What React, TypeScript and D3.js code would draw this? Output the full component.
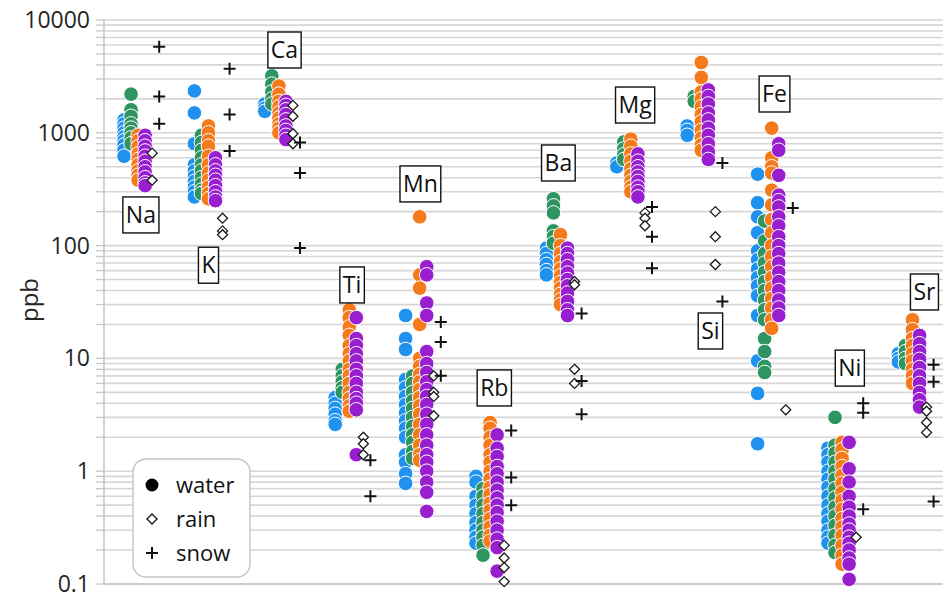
import { useMemo } from 'react';
import * as d3 from 'd3';

const W = 943;
const H = 599;
const PLOT = { left: 104, right: 943, top: 20, bottom: 584 };

const elements = ['Na', 'K', 'Ca', 'Ti', 'Mn', 'Rb', 'Ba', 'Mg', 'Si', 'Fe', 'Ni', 'Sr'];

// water samples, one column per site (blue, green, orange, purple)
const blueWater = [
  [1300, 1200, 1100, 1000, 920, 850, 780, 700, 620],
  [2350, 1500, 800, 520, 460, 410, 370, 330, 300, 270],
  [1800, 1650, 1550],
  [4.5, 4.0, 3.6, 3.2, 2.8, 2.6],
  [24, 15, 12, 6.5, 5.5, 4.6, 3.9, 3.3, 2.8, 2.4, 2.0, 1.4, 1.2, 0.95, 0.78],
  [0.9, 0.8, 0.6, 0.5, 0.42, 0.35, 0.3, 0.26, 0.23],
  [95, 85, 75, 68, 60, 55],
  [540, 500],
  [1150, 1050, 950],
  [430, 240, 180, 130, 90, 75, 62, 52, 44, 36, 24, 9.5, 4.9, 1.75],
  [1.6, 1.4, 1.2, 1.0, 0.85, 0.72, 0.6, 0.5, 0.42, 0.36, 0.3, 0.26, 0.23],
  [11, 10, 9.3],
];

const greenWater = [
  [2200, 1600, 1400, 1200, 1100, 1000, 900, 800],
  [950, 820, 700, 600, 520, 460, 400, 350, 310, 290],
  [3200, 2700, 2300, 2000, 1800],
  [8, 7, 6.2, 5.5, 5.0],
  [7, 6, 5, 4.2, 3.6, 3.0, 2.5, 2.1, 1.8, 1.5, 1.3],
  [0.7, 0.6, 0.5, 0.42, 0.35, 0.3, 0.26, 0.22, 0.18],
  [260, 225, 195, 135, 120, 105],
  [830, 720, 640, 580],
  [2100, 1900],
  [165, 110, 85, 70, 58, 48, 40, 33, 27, 22, 15, 11.5, 8.5, 7.5],
  [3.0, 1.7, 1.45, 1.2, 1.0, 0.85, 0.7, 0.58, 0.48, 0.4, 0.33, 0.27, 0.22, 0.19],
  [13, 11.5, 10, 9],
];

const orangeWater = [
  [950, 850, 750, 650, 580, 520, 460, 420, 380],
  [1150, 1000, 850, 760, 620, 520, 440, 380, 330, 290, 260],
  [2600, 2200, 1900, 1700, 1500, 1350, 1200, 1100, 1000],
  [27, 23, 19, 16, 13, 11, 9.5, 8, 7, 6, 5, 4.4, 3.8, 3.4],
  [180, 55, 42, 20, 10, 8.5, 7.2, 6.2, 5.3, 4.5, 3.8, 3.2, 2.6, 2.1, 1.7, 1.4, 1.25],
  [2.7, 2.4, 2.0, 1.7, 1.4, 1.2, 1.0, 0.85, 0.72, 0.62, 0.52, 0.45, 0.38, 0.32, 0.27, 0.24],
  [125, 100, 85, 72, 62, 54, 47, 42, 37, 33, 30],
  [880, 760, 650, 560, 480, 420, 370, 330, 300],
  [4200, 3100, 2300, 2000, 1700, 1450, 1250, 1050, 900, 780, 700],
  [1100, 600, 500, 440, 310, 230, 170, 130, 100, 80, 65, 52, 42, 34, 28, 22, 18.5],
  [1.8, 1.55, 1.3, 1.1, 0.92, 0.78, 0.65, 0.55, 0.46, 0.38, 0.32, 0.27, 0.22, 0.18, 0.15],
  [22, 18, 15, 13, 11, 9.5, 8, 7, 6],
];

const purpleWater = [
  [950, 850, 760, 690, 620, 560, 500, 450, 400, 360, 340],
  [600, 520, 460, 420, 380, 340, 300, 270, 250],
  [1900, 1750, 1600, 1450, 1300, 1150, 1050, 950, 870],
  [23, 15, 13, 11, 9.5, 8, 7, 6, 5, 4.4, 4, 3.5, 1.4],
  [65, 55, 31, 24, 11.5, 9, 7.5, 6.2, 5.3, 4.6, 3.9, 3.2, 2.6, 2.1, 1.7, 1.4, 1.2, 1.0, 0.8, 0.65, 0.44],
  [2.1, 1.6, 1.35, 1.1, 0.95, 0.8, 0.68, 0.58, 0.5, 0.43, 0.36, 0.3, 0.25, 0.21, 0.13],
  [95, 85, 75, 65, 57, 50, 44, 38, 32, 27, 24],
  [650, 560, 500, 450, 410, 370, 330, 300, 270],
  [2400, 2100, 1800, 1500, 1300, 1100, 950, 800, 680, 580],
  [800, 700, 420, 280, 250, 220, 180, 150, 120, 100, 85, 70, 58, 48, 40, 33, 28, 24],
  [1.8, 1.05, 0.8, 0.6, 0.48, 0.4, 0.34, 0.3, 0.26, 0.23, 0.2, 0.17, 0.15, 0.11],
  [16, 13.5, 11.5, 9.8, 8.3, 7, 6, 5, 4.3, 3.7],
];

const rainValues = [
  [660, 380],
  [175, 135, 125],
  [1750, 1400, 980, 800],
  [2.0, 1.75, 1.4],
  [7, 5, 4.6, 3.1],
  [0.22, 0.17, 0.14, 0.105],
  [48, 45, 8, 6],
  [195, 175, 150],
  [200, 120, 68],
  [3.5],
  [0.26],
  [3.7, 3.4, 2.7, 2.2],
];

const snowValues = [
  [5800, 2100, 1200],
  [3700, 1450, 690],
  [820, 440, 95],
  [1.25, 0.6],
  [21, 14, 7],
  [2.3, 0.88, 0.5],
  [25, 6.3, 3.2],
  [220, 120, 63],
  [540, 32],
  [215],
  [4.0, 3.3, 0.46],
  [8.8, 6.2, 0.54],
];

// where each element name box sits (element-relative x, ppb)
const labelDx = [0.24, 0.2, 0.28, 0.24, 0.21, 0.26, 0.17, 0.26, 0.33, 0.24, 0.31, 0.37];
const labelPpb = [187, 67, 5420, 44.8, 352, 5.47, 540, 1763, 17.5, 2208, 8.2, 38.8];

const yTickLabels = ['0.1', '1', '10', '100', '1000', '10000'];

const seriesKeys = ['blue', 'green', 'orange', 'purple', 'rain', 'snow'];
const waterSeries = [
  { key: 'blue', color: '#1f92ef', values: blueWater },
  { key: 'green', color: '#2d9462', values: greenWater },
  { key: 'orange', color: '#f47a1c', values: orangeWater },
  { key: 'purple', color: '#981ecf', values: purpleWater },
];

const FONT = '"Open Sans", "Noto Sans", sans-serif';

const measure = (() => {
  let ctx: CanvasRenderingContext2D | null = null;
  return (txt: string, size: number) => {
    if (!ctx) ctx = document.createElement('canvas').getContext('2d');
    if (!ctx) return txt.length * size * 0.6;
    ctx.font = `${size}px ${FONT}`;
    return ctx.measureText(txt).width;
  };
})();

const plusPath = (s: number) => `M${-s},0H${s}M0,${-s}V${s}`;
const diamondPath = (s: number) => `M0,${-s}L${s},0L0,${s}L${-s},0Z`;

export default function App() {
  const yScale = useMemo(
    () => d3.scaleLog().domain([0.1, 10000]).range([PLOT.bottom, PLOT.top]),
    []
  );
  const xScale = useMemo(
    () => d3.scaleLinear().domain([0, elements.length - 1]).range([124, 898.4]),
    []
  );
  const offset = useMemo(
    () => d3.scalePoint<string>().domain(seriesKeys).range([0, 0.5]),
    []
  );

  const gridTicks = yScale.ticks();

  return (
    <div style={{ position: 'absolute', left: 0, top: 0, background: '#fff' }}>
      <svg width={W} height={H} style={{ display: 'block', fontFamily: FONT }}>
        <rect width={W} height={H} fill="#fff" />

        {/* gridlines + ticks */}
        {gridTicks.map((t, i) => (
          <g key={i}>
            <line x1={PLOT.left} x2={PLOT.right} y1={yScale(t)} y2={yScale(t)} stroke="#d6d6d6" strokeWidth={1.6} />
            <line x1={PLOT.left - 8} x2={PLOT.left} y1={yScale(t)} y2={yScale(t)} stroke="#c8c8c8" strokeWidth={1.3} />
          </g>
        ))}
        <line x1={PLOT.left} x2={PLOT.left} y1={PLOT.top} y2={PLOT.bottom} stroke="#c4c4c4" strokeWidth={1.5} />
        <line x1={PLOT.left} x2={PLOT.right} y1={PLOT.bottom} y2={PLOT.bottom} stroke="#c4c4c4" strokeWidth={1.5} />

        {yTickLabels.map((lab) => (
          <text key={lab} x={90} y={yScale(+lab) + 8} textAnchor="end" fontSize={23} fill="#262626">
            {lab}
          </text>
        ))}
        <text transform={`translate(38, 300) rotate(-90)`} textAnchor="middle" fontSize={24} fill="#262626">
          ppb
        </text>

        {/* water */}
        {waterSeries.map((s) => (
          <g key={s.key}>
            {s.values.map((vals, ei) =>
              vals.map((v, j) => (
                <circle
                  key={`${ei}-${j}`}
                  cx={xScale(ei + offset(s.key)!)}
                  cy={yScale(v)}
                  r={7.3}
                  fill={s.color}
                  stroke="#fff"
                  strokeWidth={1}
                />
              ))
            )}
          </g>
        ))}

        {/* rain */}
        {rainValues.map((vals, ei) =>
          vals.map((v, j) => (
            <path
              key={`r${ei}-${j}`}
              d={diamondPath(5)}
              transform={`translate(${xScale(ei + offset('rain')!)},${yScale(v)})`}
              fill="#fff"
              stroke="#1a1a1a"
              strokeWidth={1.3}
            />
          ))
        )}

        {/* snow */}
        {snowValues.map((vals, ei) =>
          vals.map((v, j) => (
            <path
              key={`s${ei}-${j}`}
              d={plusPath(6)}
              transform={`translate(${xScale(ei + offset('snow')!)},${yScale(v)})`}
              stroke="#111"
              strokeWidth={2}
            />
          ))
        )}

        {/* element labels */}
        {elements.map((el, i) => {
          const cx = xScale(i + labelDx[i]);
          const cy = yScale(labelPpb[i]);
          const w = measure(el, 23) + 6;
          return (
            <g key={el}>
              <rect x={cx - w / 2} y={cy - 18} width={w} height={36} fill="#fff" stroke="#111" strokeWidth={1.4} />
              <text x={cx} y={cy + 8} textAnchor="middle" fontSize={23} fill="#111">
                {el}
              </text>
            </g>
          );
        })}

        {/* legend */}
        <g>
          <rect x={133} y={459} width={117} height={118} rx={13} fill="#fff" stroke="#c4c4c4" strokeWidth={1.4} />
          <circle cx={152} cy={485} r={6.5} fill="#000" />
          <text x={176} y={493} fontSize={22} fill="#111">water</text>
          <path d={diamondPath(5)} transform="translate(152,519)" fill="#fff" stroke="#111" strokeWidth={1.3} />
          <text x={176} y={527} fontSize={22} fill="#111">rain</text>
          <path d={plusPath(6)} transform="translate(152,553)" stroke="#111" strokeWidth={2} />
          <text x={176} y={561} fontSize={22} fill="#111">snow</text>
        </g>
      </svg>
    </div>
  );
}
